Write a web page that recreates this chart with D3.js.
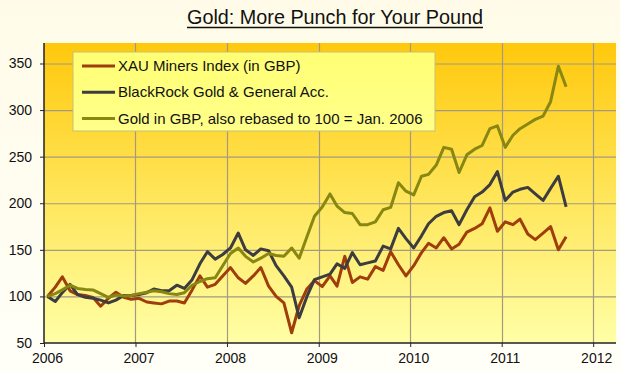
<!DOCTYPE html>
<html><head><meta charset="utf-8">
<script src="https://cdn.jsdelivr.net/npm/d3@7"></script>
<style>body{margin:0;background:#fffef4}svg{display:block}</style>
</head><body><svg id="c" width="620" height="372"></svg>
<script>
const titleText = "Gold: More Punch for Your Pound";
const seriesNames = ["XAU Miners Index (in GBP)", "BlackRock Gold & General Acc.", "Gold in GBP, also rebased to 100 = Jan. 2006"];
const firstMonth = "2006-01";
const xauMiners = [100,110,121,106,102,101,99,89.5,98,104.5,99,97,98,94,93,92,95,95,93,107,122,110,113,122,131,120,114,122,131,111,100,93,61,90,108,117,110.5,122,111,143,115,121,118.5,132,128,148,134,122,133,147,157,152,163,151,156,169,173,178,195,170,180,177,183,167,161,168,175,150,164];
const blackRock = [100,94.5,104,113,102,99,98,96,93,96,101,101,102,104,108,106,106,112,108.5,118,135,148,140,145,152,168,150,144,151,149,133,122,110,77,100,118,121,124,135,130,147,134,136,138,154,151,173,162,152,165,178,186,190,192,177,193,207,212,220,234,203,212,215,217,210,203,216,229,196];
const goldGBP = [100,103,107,112,108.5,107.5,107,103,99,101.5,100.5,101,103,104.5,106,105,103,102,104,112,116,119,120,133,146,152,143,137,141,146,144,143,152,141,164,186,196,210,197,190,189,177,177,180,193,195.5,222,213,209,229,231,241,260,258,233,252,258,262,280,283,260,273,280,285,290,293.5,309,347,325];
const yearLabels = ["2006","2007","2008","2009","2010","2011","2012"];
const yTicks = [50,100,150,200,250,300,350];

const colors = ["#a03d0c", "#3d3d3f", "#878712"];
const svg = d3.select("#c");
const W = 620, H = 372;
const L = 44, R = 616, T = 43, B = 343;

const defs = svg.append("defs");
const bg = defs.append("linearGradient").attr("id","bg").attr("x1",0).attr("y1",0).attr("x2",0).attr("y2",1);
bg.append("stop").attr("offset","0%").attr("stop-color","#fffbe8");
bg.append("stop").attr("offset","100%").attr("stop-color","#fffff8");
const pg = defs.append("linearGradient").attr("id","pg").attr("x1",0).attr("y1",0).attr("x2",0).attr("y2",1);
pg.append("stop").attr("offset","0%").attr("stop-color","#ffc80c");
pg.append("stop").attr("offset","45%").attr("stop-color","#ffe250");
pg.append("stop").attr("offset","100%").attr("stop-color","#ffffa6");
const lg = defs.append("linearGradient").attr("id","lg").attr("x1",0).attr("y1",0).attr("x2",0).attr("y2",1);
lg.append("stop").attr("offset","0%").attr("stop-color","#ffff74");
lg.append("stop").attr("offset","100%").attr("stop-color","#ffff8a");

svg.append("rect").attr("width",W).attr("height",H).attr("fill","url(#bg)");

const start = d3.timeParse("%Y-%m")(firstMonth);
const dates = goldGBP.map((_, i) => d3.timeDay.offset(d3.timeMonth.offset(start, i), 14));
const yearDates = yearLabels.map(y => d3.timeParse("%Y")(y));

const x = d3.scaleTime().domain([yearDates[0], d3.timeMonth.offset(yearDates[yearDates.length-1], 3)]).range([L, R]);
const y = d3.scaleLinear().domain([50, 372]).range([B, T]);

svg.append("rect").attr("x",L).attr("y",T).attr("width",R-L).attr("height",B-T).attr("fill","url(#pg)");

// gridlines
svg.append("g").selectAll("line").data(yTicks.slice(1)).join("line")
  .attr("x1",L).attr("x2",R).attr("y1",d=>y(d)+0.5).attr("y2",d=>y(d)+0.5)
  .attr("stroke","#a39a80").attr("stroke-width",1.2);
svg.append("g").selectAll("line").data(yearDates.slice(1)).join("line")
  .attr("y1",T).attr("y2",B).attr("x1",d=>Math.round(x(d))+0.5).attr("x2",d=>Math.round(x(d))+0.5)
  .attr("stroke","#a39a80").attr("stroke-width",1.2);

// axes
const yAxis = d3.axisLeft(y).tickValues(yTicks).tickSize(4).tickPadding(8);
const gy = svg.append("g").attr("transform",`translate(${L},0)`).call(yAxis);
const xAxis = d3.axisBottom(x).tickValues(yearDates).tickFormat((d,i)=>yearLabels[i]).tickSize(4).tickPadding(6);
const gx = svg.append("g").attr("transform",`translate(0,${B})`).call(xAxis);
[gx, gy].forEach(g => {
  g.select(".domain").attr("stroke","#222").attr("stroke-width",1.5);
  g.selectAll(".tick line").attr("stroke","#222");
  g.selectAll("text").attr("font-family","Arial, 'Liberation Sans', sans-serif").attr("font-size",14).attr("fill","#111");
});
gx.selectAll("text").attr("dx",3);
gx.select(".domain").attr("d",`M${L},0H${R}`);
gy.select(".domain").attr("d",`M0,${B}V${T}`);

// lines
const series = [xauMiners, blackRock, goldGBP];
const line = d3.line().x((d,i)=>x(dates[i])).y(d=>y(d));
series.forEach((s, k) => {
  svg.append("path").datum(s).attr("d", line).attr("fill","none")
    .attr("stroke", colors[k]).attr("stroke-width",3).attr("stroke-linejoin","round");
});

// legend
const leg = svg.append("g");
leg.append("rect").attr("x",73).attr("y",52).attr("width",362).attr("height",79)
  .attr("fill","url(#lg)").attr("stroke","#c8c070").attr("stroke-width",1);
seriesNames.forEach((n, k) => {
  const cy = 66 + k*26.3;
  leg.append("line").attr("x1",82).attr("x2",115).attr("y1",cy).attr("y2",cy)
    .attr("stroke",colors[k]).attr("stroke-width",3);
  leg.append("text").attr("x",118).attr("y",cy+5).text(n)
    .attr("font-family","Arial, 'Liberation Sans', sans-serif").attr("font-size",15).attr("fill","#111");
});

// title
svg.append("text").attr("x",335).attr("y",24).attr("text-anchor","middle").text(titleText)
  .attr("font-family","Arial, 'Liberation Sans', sans-serif").attr("font-size",21)
  .attr("textLength",296).attr("lengthAdjust","spacingAndGlyphs").attr("fill","#111");
svg.append("line").attr("x1",187).attr("x2",483).attr("y1",27.5).attr("y2",27.5).attr("stroke","#111").attr("stroke-width",1.3);
</script></body></html>
